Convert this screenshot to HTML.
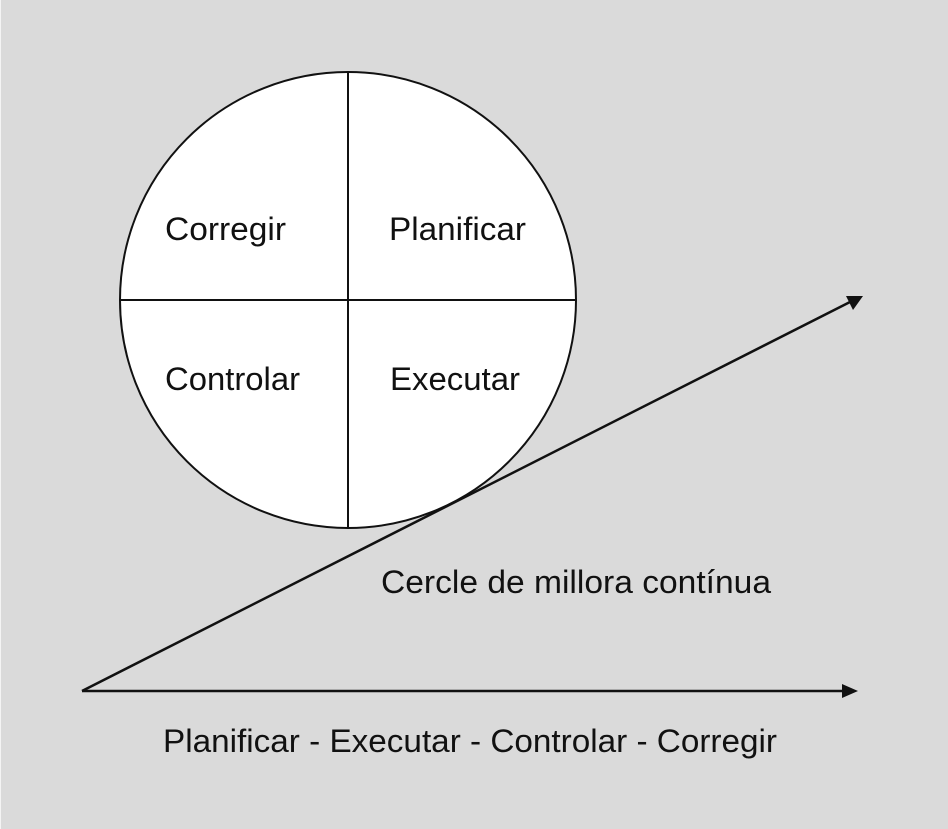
<!DOCTYPE html>
<html><head><meta charset="utf-8"><style>
html,body{margin:0;padding:0;background:#dadada;}
svg{display:block;}
text{font-family:"Liberation Sans",sans-serif;font-size:32px;fill:#111;}
</style></head><body>
<svg width="948" height="829" viewBox="0 0 948 829">
<rect x="0" y="0" width="948" height="829" fill="#dadada"/>
<rect x="0" y="0" width="1" height="829" fill="#f4f4f4"/>
<circle cx="348" cy="300" r="228" fill="#fff" stroke="#111" stroke-width="2"/>
<line x1="348" y1="72" x2="348" y2="528" stroke="#111" stroke-width="2"/>
<line x1="120" y1="300" x2="576" y2="300" stroke="#111" stroke-width="2"/>
<text x="165" y="240" textLength="121" lengthAdjust="spacingAndGlyphs">Corregir</text>
<text x="389" y="240" textLength="137" lengthAdjust="spacingAndGlyphs">Planificar</text>
<text x="165" y="390" textLength="135" lengthAdjust="spacingAndGlyphs">Controlar</text>
<text x="390" y="390" textLength="130" lengthAdjust="spacingAndGlyphs">Executar</text>
<line x1="82" y1="691" x2="850" y2="302" stroke="#111" stroke-width="2.5"/>
<polygon points="863,296 846,296 853,310" fill="#111"/>
<line x1="82" y1="691" x2="845" y2="691" stroke="#111" stroke-width="2.5"/>
<polygon points="858,691 842,684 842,698" fill="#111"/>
<text x="381" y="593" textLength="390" lengthAdjust="spacingAndGlyphs">Cercle de millora contínua</text>
<text x="163" y="752" textLength="614" lengthAdjust="spacingAndGlyphs">Planificar - Executar - Controlar - Corregir</text>
</svg>
</body></html>
